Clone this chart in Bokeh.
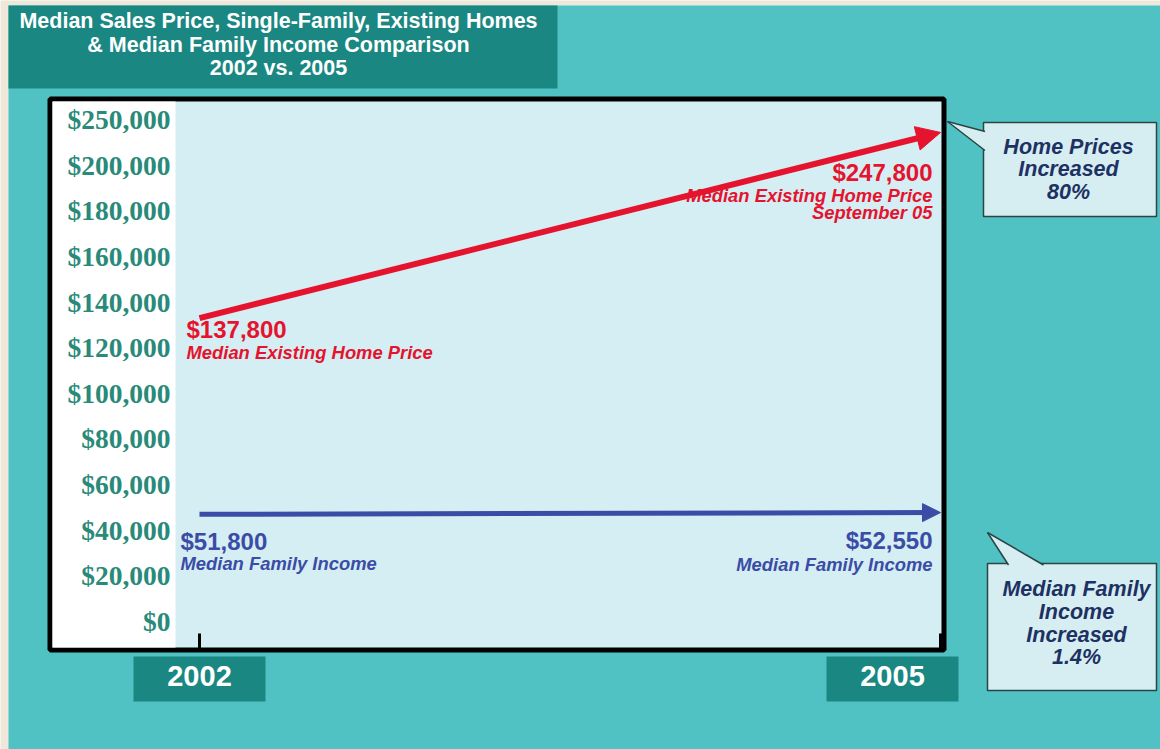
import numpy as np
from bokeh.plotting import figure
from bokeh.models import Range1d, Arrow, NormalHead
from bokeh.core.properties import value
from bokeh.embed import file_html
from bokeh.resources import INLINE

# ---------------- data ----------------
years = [2002, 2005]
home_price = [137800, 247800]
family_income = [51800, 52550]
price_value_labels = ["$137,800", "$247,800"]
income_value_labels = ["$51,800", "$52,550"]
price_caption_left = ["Median Existing Home Price"]
price_caption_right = ["Median Existing Home Price", "September 05"]
income_caption = "Median Family Income"
y_tick_values = [0, 20000, 40000, 60000, 80000, 100000, 120000,
                 140000, 160000, 180000, 200000, 250000]
y_tick_labels = ["$0", "$20,000", "$40,000", "$60,000", "$80,000", "$100,000",
                 "$120,000", "$140,000", "$160,000", "$180,000", "$200,000", "$250,000"]
x_tick_labels = ["2002", "2005"]
title_lines = ["Median Sales Price, Single-Family, Existing Homes",
               "& Median Family Income Comparison",
               "2002 vs. 2005"]
callout_price = ["Home Prices", "Increased", "80%"]
callout_income = ["Median Family", "Income", "Increased", "1.4%"]

# ---------------- colours / fonts ----------------
BEIGE = "#eee8db"
TEAL = "#50c2c3"
DARK_TEAL = "#1a8782"
LIGHT_BLUE = "#d4eef3"
YLAB = "#2a8a7a"
RED = "#e5132e"
BLUE = "#3b4ca6"
NAVY = "#1e3163"
SANS = value("Liberation Sans")
SERIF = value("Liberation Serif")
BASE_K = 0.4   # baseline correction (fraction of font size)

# ---------------- the chart's own (piecewise) value axis ----------------
tick_index = np.arange(len(y_tick_values), dtype=float)


def axis_pos(v):
    return np.interp(np.asarray(v, dtype=float), y_tick_values, tick_index)


W, H = 1160, 749
PPX = (940 - 199) / (years[1] - years[0])   # pixels per year
PPY = 45.64                                   # pixels per tick step
x0 = years[0] - 199 / PPX
x1 = x0 + W / PPX
y0 = -(H - 632) / PPY
y1 = y0 + H / PPY


def X(px):
    return x0 + px / PPX


def Y(py):
    return y1 - py / PPY


p = figure(width=W, height=H, x_range=Range1d(x0, x1), y_range=Range1d(y0, y1),
           x_axis_location=None, y_axis_location=None, toolbar_location=None,
           output_backend="svg", min_border=0, outline_line_color=None,
           background_fill_color=BEIGE, border_fill_color=BEIGE)
p.grid.visible = False


def txt(x, y, text, color, size, style, align, xo=0, yo=0, font=SANS):
    p.text(x=x, y=y, text=text, x_offset=xo, y_offset=yo - BASE_K * size,
           text_align=align, text_baseline="alphabetic", text_color=color,
           text_font=font, text_font_style=style, text_font_size=f"{size}px")


# teal panel
p.quad(left=X(8), right=X(1170), top=Y(5), bottom=Y(760), fill_color=TEAL, line_color=None)

# title box
p.quad(left=X(8), right=X(557), top=Y(5), bottom=Y(88), fill_color=DARK_TEAL, line_color=None)
txt([X(278)] * 3, [Y(29), Y(53), Y(76)], title_lines, "white", 21.5, "bold", "center")

# plot box
p.quad(left=X(49.5), right=X(943.5), top=Y(98.5), bottom=Y(649.5),
       fill_color=LIGHT_BLUE, line_color="black", line_width=5)
p.quad(left=X(52), right=X(175), top=Y(101), bottom=Y(647),
       fill_color="white", line_color=None)

# y tick labels
txt([X(170)] * len(y_tick_labels), tick_index, y_tick_labels, YLAB, 27.5, "bold",
    "right", font=SERIF)

# x ticks
p.segment(x0=years, x1=years, y0=[Y(648)] * 2, y1=[Y(633)] * 2,
          line_color="black", line_width=3)

# year boxes
box_shift = [0, -48]
box_cx = [yr + s / PPX for yr, s in zip(years, box_shift)]
p.quad(left=[c - 66 / PPX for c in box_cx], right=[c + 66 / PPX for c in box_cx],
       top=[Y(656)] * 2, bottom=[Y(701)] * 2, fill_color=DARK_TEAL, line_color=None)
txt(box_cx, [Y(687)] * 2, x_tick_labels, "white", 29, "bold", "center")

# arrows (data)
price_pos = axis_pos(home_price)
income_pos = axis_pos(family_income)
p.add_layout(Arrow(x_start=years[0], y_start=price_pos[0], x_end=years[1], y_end=price_pos[1],
                   line_color=RED, line_width=6,
                   end=NormalHead(size=24, fill_color=RED, line_color=RED)))
p.add_layout(Arrow(x_start=years[0], y_start=income_pos[0], x_end=years[1], y_end=income_pos[1],
                   line_color=BLUE, line_width=5,
                   end=NormalHead(size=18, fill_color=BLUE, line_color=BLUE)))

# value labels
BIG, SMALL = 24, 18.4
txt([years[0]], [price_pos[0]], [price_value_labels[0]], RED, BIG, "bold", "left", -13, 21.5)
txt([years[0]], [price_pos[0]], price_caption_left, RED, SMALL, "bold italic", "left", -13, 41.5)
txt([years[1]], [price_pos[1]], [price_value_labels[1]], RED, BIG, "bold", "right", -8, 50)
txt([years[1]], [price_pos[1]], [price_caption_right[0]], RED, SMALL, "bold italic", "right", -8, 70)
txt([years[1]], [price_pos[1]], [price_caption_right[1]], RED, SMALL, "bold italic", "right", -8, 87)

txt([years[0]], [income_pos[0]], [income_value_labels[0]], BLUE, BIG, "bold", "left", -19, 37)
txt([years[0]], [income_pos[0]], [income_caption], BLUE, SMALL, "bold italic", "left", -19, 57)
txt([years[1]], [income_pos[1]], [income_value_labels[1]], BLUE, BIG, "bold", "right", -8, 38)
txt([years[1]], [income_pos[1]], [income_caption], BLUE, SMALL, "bold italic", "right", -8, 59)

# callouts
BOX_FILL = "#d6eef2"
BOX_LINE = "#2b4444"


def callout(left, right, top, bottom, tip, base, lines, cx, baselines, size):
    p.quad(left=X(left), right=X(right), top=Y(top), bottom=Y(bottom),
           fill_color=BOX_FILL, line_color=BOX_LINE, line_width=1.5)
    p.patch(x=[X(tip[0]), X(base[0][0]), X(base[1][0])],
            y=[Y(tip[1]), Y(base[0][1]), Y(base[1][1])],
            fill_color=BOX_FILL, line_color=None)
    p.segment(x0=[X(tip[0])] * 2, y0=[Y(tip[1])] * 2,
              x1=[X(base[0][0]), X(base[1][0])], y1=[Y(base[0][1]), Y(base[1][1])],
              line_color=BOX_LINE, line_width=1.5)
    txt([X(cx)] * len(lines), [Y(b) for b in baselines], lines, NAVY, size,
        "bold italic", "center")


callout(983, 1156, 122, 216, (947, 121), ((984.5, 131), (984.5, 150)),
        callout_price, 1068, [155, 177, 200], 21.5)
callout(987, 1156, 563, 690, (987, 532), ((1008, 564.5), (1043, 564.5)),
        callout_income, 1076, [597, 620, 643, 665], 21.5)

open("out.html", "w").write(file_html(p, INLINE))
